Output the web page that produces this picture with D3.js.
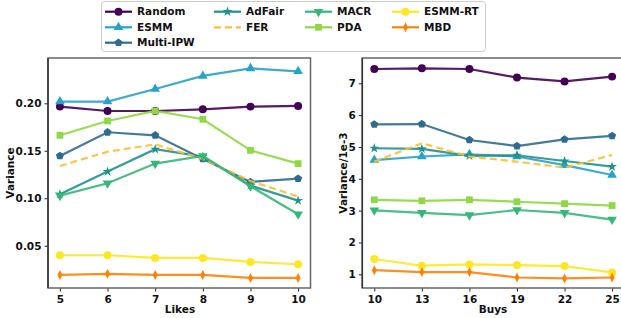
<!DOCTYPE html>
<html>
<head>
<meta charset="utf-8">
<script src="https://cdn.jsdelivr.net/npm/d3@7"></script>
<style>
  body { margin: 0; background: #fff; }
  svg text { font-family: "DejaVu Sans", sans-serif; font-weight: bold; }
</style>
</head>
<body>
<div id="chart"></div>
<script>
// data
const methods = ["Random", "ESMM", "Multi-IPW", "AdFair", "FER", "MACR", "PDA", "ESMM-RT", "MBD"];
const likes = [5, 6, 7, 8, 9, 10];
const buys = [10, 13, 16, 19, 22, 25];

const likesRandom = [0.1965, 0.1919, 0.1919, 0.1937, 0.1965, 0.1972];
const likesESMM = [0.2018, 0.2018, 0.2151, 0.2288, 0.2368, 0.2337];
const likesMultiIPW = [0.1446, 0.1695, 0.1663, 0.1414, 0.1172, 0.1207];
const likesAdFair = [0.1042, 0.1281, 0.1516, 0.1439, 0.1133, 0.0975];
const likesFER = [0.1340, 0.1490, 0.1568, 0.1414, 0.1182, 0.1018];
const likesMACR = [0.1028, 0.1158, 0.1365, 0.1446, 0.1126, 0.0832];
const likesPDA = [0.1663, 0.1814, 0.1919, 0.1832, 0.1505, 0.1365];
const likesESMMRT = [0.0400, 0.0400, 0.0372, 0.0372, 0.0330, 0.0305];
const likesMBD = [0.0193, 0.0204, 0.0193, 0.0193, 0.0161, 0.0161];

const buysRandom = [7.45, 7.47, 7.45, 7.18, 7.06, 7.21];
const buysESMM = [4.59, 4.70, 4.77, 4.70, 4.43, 4.12];
const buysMultiIPW = [5.71, 5.72, 5.22, 5.03, 5.24, 5.35];
const buysAdFair = [4.96, 4.94, 4.72, 4.74, 4.56, 4.38];
const buysFER = [4.54, 5.12, 4.70, 4.54, 4.35, 4.75];
const buysMACR = [3.01, 2.93, 2.86, 3.02, 2.93, 2.72];
const buysPDA = [3.34, 3.31, 3.34, 3.28, 3.22, 3.16];
const buysESMMRT = [1.48, 1.27, 1.31, 1.29, 1.26, 1.06];
const buysMBD = [1.13, 1.07, 1.07, 0.90, 0.87, 0.90];

const likesTicks = [0.05, 0.10, 0.15, 0.20];
const buysTicks = [1, 2, 3, 4, 5, 6, 7];

const colors = ["#440154", "#27a2c9", "#2f6b8f", "#21918c", "#fbc02d", "#35b779", "#8fd744", "#fde725", "#ff8205"];
const markers = ["circle", "triangle", "pentagon", "star", null, "triangleDown", "square", "circle", "thinDiamond"];

const likesSeries = [likesRandom, likesESMM, likesMultiIPW, likesAdFair, likesFER, likesMACR, likesPDA, likesESMMRT, likesMBD];
const buysSeries = [buysRandom, buysESMM, buysMultiIPW, buysAdFair, buysFER, buysMACR, buysPDA, buysESMMRT, buysMBD];

const W = 621, H = 318;
const svg = d3.select("#chart").append("svg")
    .attr("width", W).attr("height", H);

// marker shapes
function markerPath(kind) {
    if (kind === "circle") return d3.symbol(d3.symbolCircle, 50)();
    if (kind === "triangle" || kind === "triangleDown") return d3.symbol(d3.symbolTriangle, 40)();
    if (kind === "square") return d3.symbol(d3.symbolSquare, 46)();
    if (kind === "star") return d3.symbol(d3.symbolStar, 30)();
    if (kind === "thinDiamond") return "M0,-5L2.5,0L0,5L-2.5,0Z";
    if (kind === "pentagon") {
        const r = 4.2;
        const pts = d3.range(5).map(i => {
            const a = -Math.PI / 2 + i * 2 * Math.PI / 5;
            return [r * Math.cos(a), r * Math.sin(a)];
        });
        return "M" + pts.join("L") + "Z";
    }
    return null;
}

function drawPanel(opt) {
    const x = d3.scaleLinear().domain(opt.xDomain).range([opt.left, opt.right]);
    const y = d3.scaleLinear().domain(opt.yDomain).range([opt.bottom, opt.top]);
    const g = svg.append("g");

    // axes
    const xAxis = g.append("g")
        .attr("transform", `translate(0,${opt.bottom})`)
        .call(d3.axisBottom(x).tickValues(opt.xTicks).tickFormat(d3.format("d")).tickSize(3.5).tickPadding(3));
    const yAxis = g.append("g")
        .attr("transform", `translate(${opt.left},0)`)
        .call(d3.axisLeft(y).tickValues(opt.yTicks).tickFormat(opt.yFormat).tickSize(3.5).tickPadding(3));
    [xAxis, yAxis].forEach(a => {
        a.select(".domain").remove();
        a.selectAll("text").attr("font-size", 10.5).attr("fill", "#111");
        a.selectAll("line").attr("stroke", "#222");
    });
    xAxis.selectAll("text").attr("dy", "0.85em");

    // series
    const line = d3.line().x((d, i) => x(opt.xs[i])).y(d => y(d));
    opt.series.forEach((vals, k) => {
        g.append("path")
            .datum(vals)
            .attr("d", line)
            .attr("fill", "none")
            .attr("stroke", colors[k])
            .attr("stroke-width", 2.2)
            .attr("stroke-opacity", 0.9)
            .attr("stroke-dasharray", markers[k] ? null : "7,4");
        if (markers[k]) {
            const p = markerPath(markers[k]);
            g.selectAll(null).data(vals).enter().append("path")
                .attr("d", p)
                .attr("transform", (d, i) => `translate(${x(opt.xs[i])},${y(d)})` + (markers[k] === "triangleDown" ? " rotate(180)" : ""))
                .attr("fill", colors[k]);
        }
    });

    // frame
    g.append("rect")
        .attr("x", opt.left).attr("y", opt.top)
        .attr("width", opt.right - opt.left).attr("height", opt.bottom - opt.top)
        .attr("fill", "none").attr("stroke", "#666").attr("stroke-width", 1.5);
    g.append("line")
        .attr("x1", opt.left).attr("x2", opt.left).attr("y1", opt.top).attr("y2", opt.bottom)
        .attr("stroke", "#333").attr("stroke-width", 1.5);

    // labels
    g.append("text")
        .attr("x", opt.xLabelX)
        .attr("y", 313)
        .attr("text-anchor", "middle")
        .attr("font-size", 10.5)
        .attr("fill", "#111")
        .text(opt.xLabel);
    g.append("text")
        .attr("transform", `translate(${opt.yLabelX},${(opt.top + opt.bottom) / 2}) rotate(-90)`)
        .attr("text-anchor", "middle")
        .attr("font-size", 10.5)
        .attr("fill", "#111")
        .text(opt.yLabel);
}

drawPanel({
    left: 48, right: 310.5, top: 58, bottom: 288,
    xDomain: [4.75, 10.26], yDomain: [0.0055, 0.2477],
    xs: likes, xTicks: likes, yTicks: likesTicks, yFormat: d3.format(".2f"),
    series: likesSeries, xLabel: "Likes", xLabelX: 180, yLabel: "Variance", yLabelX: 14
});

drawPanel({
    left: 362.3, right: 624, top: 58, bottom: 288,
    xDomain: [9.243, 25.75], yDomain: [0.57, 7.795],
    xs: buys, xTicks: buys, yTicks: buysTicks, yFormat: d3.format("d"),
    series: buysSeries, xLabel: "Buys", xLabelX: 493, yLabel: "Variance/1e-3", yLabelX: 347
});

// legend (filled column by column, 3 rows)
const legend = svg.append("g");
legend.append("rect")
    .attr("x", 101.5).attr("y", 1.5).attr("width", 384).attr("height", 50)
    .attr("rx", 3).attr("fill", "#fff").attr("stroke", "#ccc").attr("stroke-width", 1);
const colX = [105, 214, 305, 392];
const rowY = [11.7, 27.3, 42.7];
const layout = [[0, 0], [0, 1], [0, 2], [1, 0], [1, 1], [2, 0], [2, 1], [3, 0], [3, 1]];
methods.forEach((name, k) => {
    const [c, r] = layout[k];
    const x0 = colX[c], yy = rowY[r];
    legend.append("line")
        .attr("x1", x0).attr("x2", x0 + 27).attr("y1", yy).attr("y2", yy)
        .attr("stroke", colors[k]).attr("stroke-width", 2.2)
        .attr("stroke-dasharray", markers[k] ? null : "7,4");
    if (markers[k]) {
        legend.append("path")
            .attr("d", markerPath(markers[k]))
            .attr("transform", `translate(${x0 + 13.5},${yy})` + (markers[k] === "triangleDown" ? " rotate(180)" : ""))
            .attr("fill", colors[k]);
    }
    legend.append("text")
        .attr("x", x0 + 32).attr("y", yy)
        .attr("dy", "0.36em")
        .attr("font-size", 10.5)
        .attr("fill", "#111")
        .text(name);
});
</script>
</body>
</html>
